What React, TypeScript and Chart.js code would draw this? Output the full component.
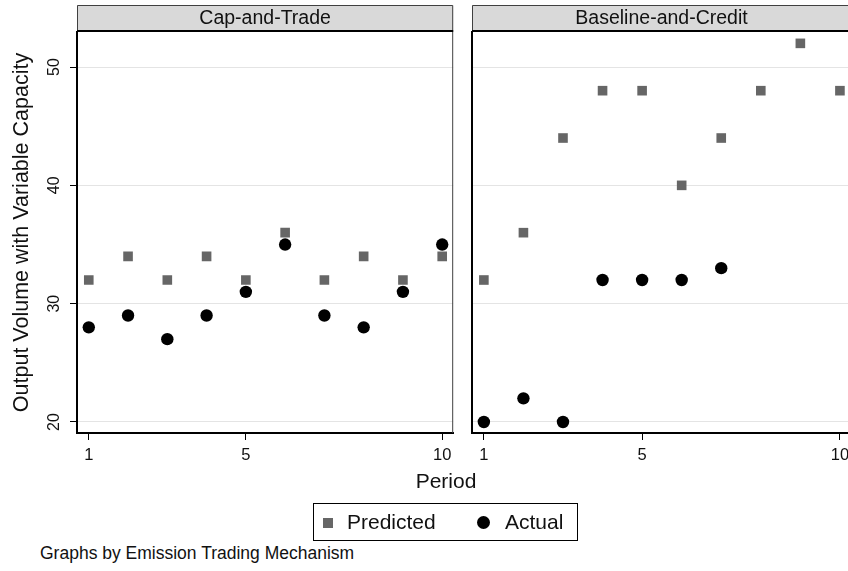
import React, { useEffect, useRef } from "react";
import { Chart, registerables } from "chart.js";

Chart.register(...registerables);

// ---- data ----
const periods = [1, 2, 3, 4, 5, 6, 7, 8, 9, 10];
const capPredicted = [32, 34, 32, 34, 32, 36, 32, 34, 32, 34];
const capActual = [28, 29, 27, 29, 31, 35, 29, 28, 31, 35];
const bacPredicted = [32, 36, 44, 48, 48, 40, 44, 48, 52, 48];
const bacActual: (number | null)[] = [20, 22, 20, 32, 32, 32, 33, null, null, null];
const xTicks = [1, 5, 10];
const yTicks = [20, 30, 40, 50];
const panelTitles = ["Cap-and-Trade", "Baseline-and-Credit"];
const seriesNames = ["Predicted", "Actual"];
const yTitle = "Output Volume with Variable Capacity";
const xTitle = "Period";
const note = "Graphs by Emission Trading Mechanism";

const FONT = "'Liberation Sans', Arial, Helvetica, sans-serif";
const PRED_COLOR = "#666666";
const ACT_COLOR = "#000000";

type PanelProps = {
  title: string;
  predicted: (number | null)[];
  actual: (number | null)[];
  first: boolean;
  left: number;
  width: number;
  yAxisWidth: number;
  padRight: number;
};

function toPoints(vals: (number | null)[]) {
  return periods
    .map((p, i) => ({ x: p, y: vals[i] }))
    .filter((d) => d.y !== null && d.y !== undefined);
}

function Panel({ title, predicted, actual, first, left, width, yAxisWidth, padRight }: PanelProps) {
  const ref = useRef<HTMLCanvasElement | null>(null);
  useEffect(() => {
    if (!ref.current) return;
    const panelPlugin = {
      id: "panelDecor",
      afterDraw(chart: any) {
        const { ctx, chartArea: a } = chart;
        ctx.save();
        // header strip
        const hTop = 5;
        ctx.fillStyle = "#d9d9d9";
        ctx.fillRect(a.left, hTop, a.right - a.left, a.top - hTop);
        ctx.strokeStyle = "#404040";
        ctx.lineWidth = 1;
        ctx.beginPath();
        ctx.moveTo(a.left + 0.5, a.top);
        ctx.lineTo(a.left + 0.5, hTop + 0.5);
        ctx.lineTo(a.right - 0.5, hTop + 0.5);
        ctx.lineTo(a.right - 0.5, a.top);
        ctx.stroke();
        ctx.fillStyle = "#000";
        ctx.fillRect(a.left, a.top - 2, a.right - a.left, 2);
        ctx.fillStyle = "#111";
        ctx.font = `19.5px ${FONT}`;
        ctx.textAlign = "center";
        ctx.textBaseline = "middle";
        ctx.fillText(title, (a.left + a.right) / 2, (hTop + a.top) / 2 + 0.5);
        // right border of plot region
        ctx.strokeStyle = "#404040";
        ctx.beginPath();
        ctx.moveTo(a.right - 0.5, a.top);
        ctx.lineTo(a.right - 0.5, a.bottom);
        ctx.stroke();
        // rotated y tick labels
        if (first) {
          const ys = chart.scales.y;
          ctx.fillStyle = "#111";
          ctx.font = `16px ${FONT}`;
          ys.ticks.forEach((t: any) => {
            const py = ys.getPixelForValue(t.value);
            ctx.save();
            ctx.translate(a.left - 22, py);
            ctx.rotate(-Math.PI / 2);
            ctx.textAlign = "center";
            ctx.textBaseline = "middle";
            ctx.fillText(String(t.value), 0, 0);
            ctx.restore();
          });
        }
        ctx.restore();
      },
    };

    const chart = new Chart(ref.current, {
      type: "scatter",
      data: {
        datasets: [
          {
            label: seriesNames[0],
            data: toPoints(predicted),
            pointStyle: "rect",
            pointRadius: 6.8,
            pointHoverRadius: 6.8,
            backgroundColor: PRED_COLOR,
            borderWidth: 0,
          },
          {
            label: seriesNames[1],
            data: toPoints(actual),
            pointStyle: "circle",
            pointRadius: 6.2,
            pointHoverRadius: 6.2,
            backgroundColor: ACT_COLOR,
            borderWidth: 0,
          },
        ],
      },
      options: {
        animation: false,
        responsive: false,
        events: [],
        layout: { padding: { top: 32, left: 0, right: padRight, bottom: 0 } },
        plugins: { legend: { display: false }, tooltip: { enabled: false } },
        scales: {
          x: {
            type: "linear",
            min: 0.7,
            max: 10.28,
            afterBuildTicks: (s: any) => {
              s.ticks = xTicks.map((v) => ({ value: v }));
            },
            afterFit: (s: any) => {
              s.height = 37;
            },
            grid: {
              display: true,
              drawOnChartArea: false,
              drawTicks: true,
              tickLength: 7,
              tickColor: "#000",
              tickWidth: 1,
            },
            border: { display: true, color: "#000", width: 2 },
            ticks: {
              autoSkip: false,
              maxRotation: 0,
              minRotation: 0,
              padding: 6,
              color: "#111",
              font: { family: FONT, size: 16.5 },
            },
          },
          y: {
            type: "linear",
            min: 19.07,
            max: 52.96,
            afterBuildTicks: (s: any) => {
              s.ticks = yTicks.map((v) => ({ value: v }));
            },
            afterFit: (s: any) => {
              s.width = yAxisWidth;
            },
            grid: {
              display: true,
              color: "#e4e4e4",
              lineWidth: 1,
              drawTicks: first,
              tickLength: 7,
              tickColor: "#000",
            },
            border: { display: true, color: "#000", width: 2 },
            ticks: { display: false },
            title: {
              display: first,
              text: yTitle,
              color: "#111",
              font: { family: FONT, size: 21.5 },
              padding: { top: 9, bottom: 0 },
            },
          },
        },
      },
      plugins: [panelPlugin],
    } as any);
    return () => chart.destroy();
  }, []);
  return (
    <canvas
      ref={ref}
      width={width}
      height={470}
      style={{ position: "absolute", left, top: 0, width, height: 470 }}
    />
  );
}

export default function App() {
  return (
    <div
      style={{
        position: "absolute",
        left: 0,
        top: 0,
        width: 848,
        height: 571,
        overflow: "hidden",
        background: "#fff",
        fontFamily: FONT,
        color: "#111",
      }}
    >
      <Panel
        title={panelTitles[0]}
        predicted={capPredicted}
        actual={capActual}
        first={true}
        left={0}
        width={460}
        yAxisWidth={77}
        padRight={4}
      />
      <Panel
        title={panelTitles[1]}
        predicted={bacPredicted}
        actual={bacActual}
        first={false}
        left={460}
        width={400}
        yAxisWidth={12}
        padRight={9}
      />
      <div
        style={{
          position: "absolute",
          left: 346,
          width: 200,
          top: 469,
          lineHeight: "24px",
          fontSize: 21,
          textAlign: "center",
        }}
      >
        {xTitle}
      </div>
      <div
        style={{
          position: "absolute",
          left: 313,
          top: 503,
          width: 263,
          height: 36,
          border: "1px solid #000",
        }}
      >
        <div
          style={{
            position: "absolute",
            left: 9,
            top: 14,
            width: 10,
            height: 10,
            background: PRED_COLOR,
          }}
        />
        <div
          style={{
            position: "absolute",
            left: 33,
            top: 6,
            lineHeight: "24px",
            fontSize: 21,
            whiteSpace: "nowrap",
          }}
        >
          {seriesNames[0]}
        </div>
        <div
          style={{
            position: "absolute",
            left: 163,
            top: 12,
            width: 13,
            height: 13,
            borderRadius: "50%",
            background: ACT_COLOR,
          }}
        />
        <div
          style={{
            position: "absolute",
            left: 191,
            top: 6,
            lineHeight: "24px",
            fontSize: 21,
            whiteSpace: "nowrap",
          }}
        >
          {seriesNames[1]}
        </div>
      </div>
      <div
        style={{
          position: "absolute",
          left: 40,
          top: 543,
          lineHeight: "20px",
          fontSize: 17.5,
          whiteSpace: "nowrap",
        }}
      >
        {note}
      </div>
    </div>
  );
}
